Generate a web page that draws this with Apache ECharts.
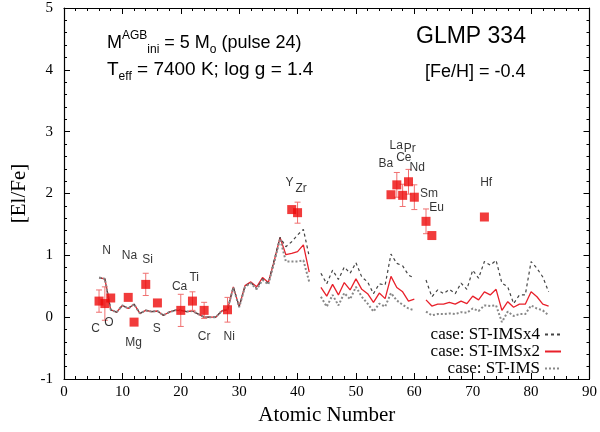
<!DOCTYPE html>
<html>
<head>
<meta charset="utf-8">
<script src="https://cdn.jsdelivr.net/npm/echarts@6/dist/echarts.min.js"></script>
<style>html,body{margin:0;padding:0;background:#fff}#c{width:600px;height:432px}</style>
</head>
<body>
<div id="c"></div>
<script>
// ---- data ----
var xTicks = [0, 10, 20, 30, 40, 50, 60, 70, 80, 90];
var yTicks = [-1, 0, 1, 2, 3, 4, 5];

// model atomic numbers (null = gap)
var zModel = [6,7,8,9,10,11,12,13,14,15,16,17,18,19,20,21,22,23,24,25,26,27,28,29,30,31,32,33,34,35,36,37,38,39,40,41,42,43,
  44,45,46,47,48,49,50,51,52,53,54,55,56,57,58,59,60,61,
  62,63,64,65,66,67,68,69,70,71,72,73,74,75,76,77,78,79,80,81,82,83];

var modelX2 = [0.64,0.62,0.12,0.08,0.19,0.14,0.21,0.06,0.11,0.09,0.10,0.03,0.08,0.11,0.11,0.09,0.10,0.05,0.00,0.00,0.00,0.10,0.12,0.49,0.17,0.51,0.57,0.49,0.64,0.56,0.91,1.29,1.01,1.03,1.06,1.17,0.73,null,
  0.48,0.34,0.53,0.36,0.56,0.44,0.62,0.45,0.38,0.24,0.39,0.30,0.66,0.48,0.41,0.26,0.29,null,
  0.28,0.18,0.21,0.21,0.24,0.21,0.26,0.22,0.34,0.28,0.41,0.36,0.45,0.11,0.25,0.16,0.21,0.21,0.41,0.33,0.21,0.18];

var modelX4 = [0.64,0.62,0.12,0.08,0.19,0.14,0.21,0.06,0.11,0.09,0.10,0.03,0.08,0.11,0.11,0.09,0.10,0.05,0.00,0.00,0.00,0.10,0.12,0.49,0.17,0.50,0.56,0.46,0.62,0.55,0.93,1.29,1.14,1.22,1.33,1.42,0.98,null,
  0.71,0.54,0.76,0.61,0.81,0.71,0.88,0.65,0.57,0.38,0.54,0.52,1.02,0.87,0.83,0.68,0.63,null,
  0.60,0.33,0.44,0.38,0.45,0.38,0.55,0.45,0.76,0.63,0.90,0.84,0.92,0.55,0.49,0.22,0.36,0.36,0.90,0.79,0.65,0.41];

var modelX1 = [0.64,0.62,0.12,0.08,0.19,0.14,0.21,0.06,0.11,0.09,0.10,0.03,0.08,0.11,0.11,0.09,0.10,0.05,0.00,0.00,0.00,0.10,0.12,0.48,0.16,0.49,0.55,0.45,0.60,0.53,0.88,1.27,0.90,0.90,0.90,0.92,0.57,null,
  0.33,0.17,0.36,0.19,0.39,0.29,0.49,0.33,0.22,0.09,0.22,0.17,0.39,0.27,0.20,0.14,0.11,null,
  0.09,0.03,0.05,0.05,0.06,0.05,0.08,0.07,0.14,0.10,0.19,0.18,0.19,-0.08,0.09,0.02,0.05,0.05,0.19,0.14,0.11,0.03];

// observed abundances
var obsZ   = [6, 7, 8, 11, 12, 14, 16, 20, 22, 24, 28, 39, 40, 56, 57, 58, 59, 60, 62, 63, 72];
var obsVal = [0.26, 0.22, 0.31, 0.32, -0.08, 0.53, 0.23, 0.11, 0.26, 0.11, 0.12, 1.74, 1.69, 1.98, 2.14, 1.97, 2.19, 1.94, 1.55, 1.32, 1.62];
var obsErr = [0.18, 0.27, 0, 0, 0, 0.18, 0, 0.26, 0.15, 0.13, 0.20, 0, 0.17, 0, 0.20, 0.18, 0.20, 0.20, 0.20, 0, 0];

// element labels: name, x, y (data coords)
var elemNames = ['C','N','O','Na','Mg','Si','S','Ca','Ti','Cr','Ni','Y','Zr','Ba','La','Pr','Ce','Nd','Sm','Eu','Hf'];
var elemLabX  = [5.4, 7.3, 7.7, 11.2, 11.9, 14.3, 15.9, 19.8, 22.3, 24.0, 28.3, 38.6, 40.6, 55.1, 56.9, 59.2, 58.2, 60.5, 62.5, 63.8, 72.3];
var elemLabY  = [-0.19, 1.08, -0.09, 0.99, -0.41, 0.93, -0.19, 0.50, 0.64, -0.32, -0.32, 2.18, 2.08, 2.48, 2.77, 2.73, 2.58, 2.42, 1.99, 1.77, 2.18];

var seriesNames = ['case: ST-IMSx4', 'case: ST-IMSx2', 'case: ST-IMS'];

// ---- build ----
function pairs(vals) {
  return zModel.map(function (z, i) { return [z, vals[i] === null ? '-' : vals[i]]; });
}
var obsData = obsZ.map(function (z, i) { return [z, obsVal[i]]; });
var errData = [];
obsZ.forEach(function (z, i) {
  if (obsErr[i] > 0) errData.push([z, obsVal[i] - obsErr[i], obsVal[i] + obsErr[i]]);
});
var labData = elemNames.map(function (n, i) { return [elemLabX[i], elemLabY[i], n]; });

var serif = 'Liberation Serif';
var sans = 'Liberation Sans';

function xAx(pos, showLab) {
  return {
    type: 'value', position: pos, min: 0, max: 90, interval: 10,
    axisLine: { show: true, onZero: false, lineStyle: { color: '#000', width: 1.2 } },
    axisTick: { show: true, inside: true, length: 6, lineStyle: { color: '#000' } },
    minorTick: { show: true, splitNumber: 5, length: 3, lineStyle: { color: '#000' } },
    splitLine: { show: false },
    axisLabel: { show: showLab, color: '#000', fontFamily: serif, fontSize: 15, margin: 6 },
    name: showLab ? 'Atomic Number' : '', nameLocation: 'middle', nameGap: 23,
    nameTextStyle: { color: '#000', fontFamily: serif, fontSize: 21 }
  };
}
function yAx(pos, showLab) {
  return {
    type: 'value', position: pos, min: -1, max: 5, interval: 1,
    axisLine: { show: true, onZero: false, lineStyle: { color: '#000', width: 1.2 } },
    axisTick: { show: true, inside: true, length: 6, lineStyle: { color: '#000' } },
    minorTick: { show: true, splitNumber: 5, length: 3, lineStyle: { color: '#000' } },
    splitLine: { show: false },
    axisLabel: { show: showLab, color: '#000', fontFamily: serif, fontSize: 15, margin: 11 },
    name: showLab ? '[El/Fe]' : '', nameLocation: 'middle', nameGap: 33,
    nameTextStyle: { color: '#000', fontFamily: serif, fontSize: 21 }
  };
}

var chart = echarts.init(document.getElementById('c'), null, { renderer: 'canvas' });
chart.setOption({
  animation: false,
  backgroundColor: '#fff',
  grid: { left: 64, right: 10, top: 8, bottom: 53 },
  xAxis: [xAx('bottom', true), xAx('top', false)],
  yAxis: [yAx('left', true), yAx('right', false)],
  legend: {
    data: seriesNames,
    orient: 'vertical', right: 33, top: 321, align: 'right',
    itemWidth: 16, itemHeight: 14, itemGap: 0,
    itemStyle: { opacity: 0 },
    textStyle: { color: '#000', fontFamily: serif, fontSize: 17, padding: [0, 0, 0, 0] },
    selectedMode: false
  },
  series: [
    {
      name: seriesNames[1], type: 'line', data: pairs(modelX2), symbol: 'none', connectNulls: false,
      lineStyle: { color: '#e8202a', width: 1.3 }, itemStyle: { color: '#e8202a' }, z: 2
    },
    {
      name: seriesNames[0], type: 'line', data: pairs(modelX4), symbol: 'none', connectNulls: false,
      lineStyle: { color: '#444', width: 1.2, type: [3, 3] }, itemStyle: { color: '#444' }, z: 2
    },
    {
      name: seriesNames[2], type: 'line', data: pairs(modelX1), symbol: 'none', connectNulls: false,
      lineStyle: { color: '#888', width: 2, type: [2, 2] }, itemStyle: { color: '#888' }, z: 3
    },
    {
      type: 'custom', data: errData, encode: { x: 0, y: [1, 2] }, z: 4,
      renderItem: function (params, api) {
        var x = api.value(0);
        var p1 = api.coord([x, api.value(1)]);
        var p2 = api.coord([x, api.value(2)]);
        var w = 3, st = { stroke: '#f07070', lineWidth: 1 };
        return { type: 'group', children: [
          { type: 'line', shape: { x1: p1[0], y1: p1[1], x2: p2[0], y2: p2[1] }, style: st },
          { type: 'line', shape: { x1: p1[0] - w, y1: p1[1], x2: p1[0] + w, y2: p1[1] }, style: st },
          { type: 'line', shape: { x1: p2[0] - w, y1: p2[1], x2: p2[0] + w, y2: p2[1] }, style: st }
        ] };
      }
    },
    {
      type: 'scatter', data: obsData, symbol: 'rect', symbolSize: 9,
      itemStyle: { color: '#ee0a0a' }, z: 5
    },
    {
      type: 'scatter', data: labData, symbolSize: 1, itemStyle: { color: 'transparent' }, z: 6, silent: true,
      label: {
        show: true, position: 'inside', color: '#000', fontFamily: sans, fontSize: 12,
        textBorderWidth: 0,
        formatter: function (p) { return p.data[2]; }
      }
    }
  ],
  graphic: [
    {
      type: 'text', x: 107, y: 43,
      style: {
        text: '{n|M}{sup|AGB}{sub|ini}{n| = 5 M}{sub|o}{n| (pulse 24)}',
        verticalAlign: 'middle', fill: '#000',
        rich: {
          n: { fontFamily: sans, fontSize: 18, lineHeight: 26, verticalAlign: 'middle', fill: '#000' },
          sup: { fontFamily: sans, fontSize: 12, lineHeight: 14, verticalAlign: 'top', fill: '#000' },
          sub: { fontFamily: sans, fontSize: 12, lineHeight: 14, verticalAlign: 'bottom', fill: '#000' }
        }
      }
    },
    {
      type: 'text', x: 107, y: 70,
      style: {
        text: '{n|T}{sub|eff}{n| = 7400 K; log g = 1.4}',
        verticalAlign: 'middle', fill: '#000',
        rich: {
          n: { fontFamily: sans, fontSize: 19, lineHeight: 26, verticalAlign: 'middle', fill: '#000' },
          sub: { fontFamily: sans, fontSize: 12, lineHeight: 14, verticalAlign: 'bottom', fill: '#000' }
        }
      }
    },
    {
      type: 'text', x: 416, y: 37,
      style: { text: 'GLMP 334', fontFamily: sans, fontSize: 23, fill: '#000', verticalAlign: 'middle' }
    },
    {
      type: 'text', x: 425, y: 72,
      style: { text: '[Fe/H] = -0.4', fontFamily: sans, fontSize: 18, fill: '#000', verticalAlign: 'middle' }
    }
  ]
});
</script>
</body>
</html>
